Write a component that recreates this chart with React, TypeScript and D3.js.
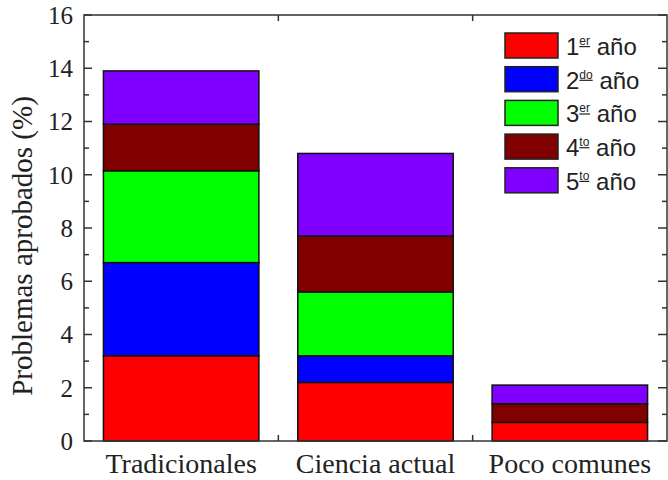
import React, { useEffect, useRef } from "react";
import * as d3 from "d3";

const categories = ["Tradicionales", "Ciencia actual", "Poco comunes"];
const years = ["1", "2", "3", "4", "5"];
const yearSup = ["er", "do", "er", "to", "to"];
const colors = ["#ff0000", "#0000ff", "#00ff00", "#800000", "#8000ff"];
const year1 = [3.2, 2.2, 0.7];
const year2 = [3.5, 1.0, 0];
const year3 = [3.45, 2.4, 0];
const year4 = [1.75, 2.1, 0.7];
const year5 = [2.0, 3.1, 0.7];
const series = [year1, year2, year3, year4, year5];

function App() {
  const ref = useRef<SVGSVGElement>(null);

  useEffect(() => {
    const margin = { top: 15, left: 84, bottom: 39, right: 1 };
    const uWidth = 668 - margin.left - margin.right;
    const uHeight = 480 - margin.top - margin.bottom;

    const svg = d3.select(ref.current);
    svg.selectAll("*").remove();

    const g = svg
      .append("g")
      .attr("transform", `translate(${margin.left},${margin.top})`);

    // categories at 1, 2, 3 on a linear axis
    const x = d3.scaleLinear().domain([0.5, 3.5]).range([0, uWidth]);
    const barW = x(1.8) - x(1);
    const y = d3.scaleLinear().domain([0, 16]).range([uHeight, 0]);

    const rows = categories.map((c, i) => {
      const r: any = { cat: c, idx: i + 1 };
      series.forEach((s, k) => (r["s" + k] = s[i]));
      return r;
    });
    const stack = d3.stack().keys(series.map((_, k) => "s" + k))(rows);

    stack.forEach((layer, k) => {
      g.append("g")
        .selectAll("rect")
        .data(layer.filter((d) => d[1] - d[0] > 0))
        .enter()
        .append("rect")
        .attr("x", (d: any) => x(d.data.idx) - barW / 2)
        .attr("width", barW)
        .attr("y", (d) => y(d[1]))
        .attr("height", (d) => y(d[0]) - y(d[1]))
        .style("fill", colors[k])
        .style("stroke", "#111")
        .style("stroke-width", 1.5);
    });

    // frame
    g.append("rect")
      .attr("width", uWidth)
      .attr("height", uHeight)
      .style("fill", "none")
      .style("stroke", "#333")
      .style("stroke-width", 1.5);

    const minor = d3.range(1, 16, 2);
    const major = d3.range(0, 17, 2);
    const tickG = g.append("g").style("stroke", "#333").style("stroke-width", 1.5);
    major.forEach((v) => {
      tickG.append("line").attr("x1", 0).attr("x2", 8).attr("y1", y(v)).attr("y2", y(v));
      tickG.append("line").attr("x1", uWidth).attr("x2", uWidth - 9).attr("y1", y(v)).attr("y2", y(v));
    });
    minor.forEach((v) => {
      tickG.append("line").attr("x1", 0).attr("x2", 5).attr("y1", y(v)).attr("y2", y(v));
      tickG.append("line").attr("x1", uWidth).attr("x2", uWidth - 5).attr("y1", y(v)).attr("y2", y(v));
    });
    [1.5, 2.5].forEach((v) => {
      tickG.append("line").attr("x1", x(v)).attr("x2", x(v)).attr("y1", uHeight).attr("y2", uHeight - 6);
      tickG.append("line").attr("x1", x(v)).attr("x2", x(v)).attr("y1", 0).attr("y2", 6);
    });

    g.append("g")
      .selectAll("text")
      .data(major)
      .enter()
      .append("text")
      .attr("x", -11)
      .attr("y", (d) => y(d))
      .attr("dy", "0.35em")
      .attr("text-anchor", "end")
      .style("font-family", "'Liberation Serif', serif")
      .style("font-size", "25px")
      .style("fill", "#222")
      .text((d) => d);

    g.append("g")
      .selectAll("text")
      .data(rows)
      .enter()
      .append("text")
      .attr("x", (d) => x(d.idx))
      .attr("y", uHeight + 32)
      .attr("text-anchor", "middle")
      .style("font-family", "'Liberation Serif', serif")
      .style("font-size", "28px")
      .style("fill", "#222")
      .text((d) => d.cat);

    svg
      .append("text")
      .attr("transform", `translate(32,246) rotate(-90)`)
      .attr("text-anchor", "middle")
      .style("font-family", "'Liberation Serif', serif")
      .style("font-size", "29px")
      .style("fill", "#222")
      .text("Problemas aprobados (%)");

    // legend
    const leg = svg.append("g").attr("transform", "translate(505,33)");
    years.forEach((yr, k) => {
      const row = leg.append("g").attr("transform", `translate(0,${k * 33.7})`);
      row.append("rect")
        .attr("width", 53)
        .attr("height", 25)
        .style("fill", colors[k])
        .style("stroke", "#222")
        .style("stroke-width", 1.5);
      const t = row.append("text")
        .attr("x", 61)
        .attr("y", 22)
        .style("font-family", "'Liberation Sans', Arial, sans-serif")
        .style("font-size", "24px")
        .style("fill", "#222");
      t.append("tspan").text(yr);
      t.append("tspan")
        .attr("dy", -10)
        .style("font-size", "12px")
        .style("text-decoration", "underline")
        .text(yearSup[k]);
      t.append("tspan").attr("dy", 10).text(" año");
    });
  }, []);

  return (
    <svg
      ref={ref}
      width={668}
      height={480}
      style={{ position: "absolute", left: 0, top: 0, background: "#fff" }}
    ></svg>
  );
}

export default App;
